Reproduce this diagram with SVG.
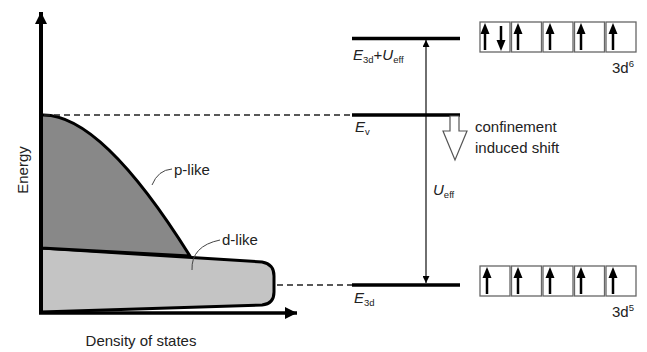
<svg xmlns="http://www.w3.org/2000/svg" width="647" height="352" viewBox="0 0 647 352">
<style>
text{font-family:"Liberation Sans",Arial,sans-serif;fill:#222}
.lbl{font-size:15px}
.it{font-style:italic}
.sub{font-size:9.5px}
.lvl{stroke:#000;stroke-width:3.5;fill:none}
.dash{stroke:#222;stroke-width:1.5;stroke-dasharray:6,4;fill:none}
.box{fill:#fff;stroke:#666;stroke-width:1.3}
.spin{stroke:#000;stroke-width:2.5;fill:none}
.lead{stroke:#444;stroke-width:1;fill:none}
</style>
<defs>
<marker id="ah" viewBox="0 0 10 10" refX="10" refY="5" markerWidth="7" markerHeight="7" markerUnits="userSpaceOnUse" orient="auto"><path d="M0,0 L10,5 L0,10 z" fill="#000"/></marker>
<marker id="ahax" viewBox="0 0 10 10" refX="10" refY="5" markerWidth="12" markerHeight="12" markerUnits="userSpaceOnUse" orient="auto"><path d="M0,0 L10,5 L0,10 z" fill="#000"/></marker>
<path id="up" d="M-4.5,0 L0,-11 L4.5,0 z" fill="#000"/>
</defs>

<g id="dos">
<path d="M41,248 L262,262 Q274,264 274,276 L274,292 Q274,304 262,305 L41,312 Z" fill="#c4c4c4" stroke="#000" stroke-width="3" stroke-linejoin="round"/>
<path d="M41,115 Q100,112 190,256 L41,248 Z" fill="#888" stroke="#000" stroke-width="3" stroke-linejoin="round"/>
<path d="M41,115 L41,248" stroke="#000" stroke-width="4"/>
</g>

<g id="axes">
<line x1="41" y1="313" x2="41" y2="12" stroke="#000" stroke-width="4" marker-end="url(#ahax)"/>
<line x1="39" y1="313" x2="297" y2="313" stroke="#000" stroke-width="3.5" marker-end="url(#ahax)"/>
<text class="lbl" transform="translate(28,170) rotate(-90)" text-anchor="middle">Energy</text>
<text class="lbl" x="141" y="346" text-anchor="middle">Density of states</text>
</g>

<g id="labels-dos">
<path class="lead" d="M152,185 Q158,170 172,169"/>
<text class="lbl" x="174" y="175">p-like</text>
<path class="lead" d="M192,270 Q191,246 220,240"/>
<text class="lbl" x="222" y="245">d-like</text>
</g>

<g id="connectors">
<line class="dash" x1="44" y1="115" x2="352" y2="115"/>
<line class="dash" x1="277" y1="285" x2="352" y2="285"/>
<line x1="426" y1="100" x2="426" y2="40" stroke="#222" stroke-width="1.3" marker-end="url(#ah)"/>
<line x1="426" y1="100" x2="426" y2="283" stroke="#222" stroke-width="1.3" marker-end="url(#ah)"/>
</g>

<g id="level-top">
<line class="lvl" x1="352" y1="38.5" x2="460" y2="38.5"/>
<text class="lbl" x="353" y="60"><tspan class="it">E</tspan><tspan class="sub" dy="3">3d</tspan><tspan dy="-3">+</tspan><tspan class="it">U</tspan><tspan class="sub" dy="3">eff</tspan></text>
</g>

<g id="level-ev">
<line class="lvl" x1="352" y1="115" x2="460" y2="115"/>
<text class="lbl" x="355" y="132"><tspan class="it">E</tspan><tspan class="sub" dy="3">v</tspan></text>
</g>

<g id="level-e3d">
<line class="lvl" x1="352" y1="285" x2="460" y2="285"/>
<text class="lbl" x="354" y="303"><tspan class="it">E</tspan><tspan class="sub" dy="3">3d</tspan></text>
</g>

<g id="ueff">
<text class="lbl" x="433" y="195"><tspan class="it">U</tspan><tspan class="sub" dy="3">eff</tspan></text>
</g>

<g id="shift">
<path d="M450,116 L459,116 L459,131 L467,131 L455,160 L443,131 L450,131 Z" fill="#fff" stroke="#555" stroke-width="1.2" stroke-linejoin="miter"/>
<text class="lbl" x="475" y="132">confinement</text>
<text class="lbl" x="475" y="153">induced shift</text>
</g>

<g id="d6">
<rect class="box" x="480" y="22" width="30" height="30"/>
<rect class="box" x="511.5" y="22" width="30" height="30"/>
<rect class="box" x="543" y="22" width="30" height="30"/>
<rect class="box" x="574.5" y="22" width="30" height="30"/>
<rect class="box" x="606" y="22" width="30" height="30"/>
<line class="spin" x1="485" y1="50" x2="485" y2="32"/><use href="#up" x="485" y="34"/>
<line class="spin" x1="501" y1="26" x2="501" y2="42"/><use href="#up" transform="translate(501,40) rotate(180)"/>
<line class="spin" x1="518" y1="50" x2="518" y2="32"/><use href="#up" x="518" y="34"/>
<line class="spin" x1="550" y1="50" x2="550" y2="32"/><use href="#up" x="550" y="34"/>
<line class="spin" x1="581" y1="50" x2="581" y2="32"/><use href="#up" x="581" y="34"/>
<line class="spin" x1="613" y1="50" x2="613" y2="32"/><use href="#up" x="613" y="34"/>
<text class="lbl" x="612" y="73">3d<tspan class="sub" dy="-6">6</tspan></text>
</g>

<g id="d5">
<rect class="box" x="480" y="266" width="30" height="30"/>
<rect class="box" x="511.5" y="266" width="30" height="30"/>
<rect class="box" x="543" y="266" width="30" height="30"/>
<rect class="box" x="574.5" y="266" width="30" height="30"/>
<rect class="box" x="606" y="266" width="30" height="30"/>
<line class="spin" x1="487" y1="294" x2="487" y2="276"/><use href="#up" x="487" y="278"/>
<line class="spin" x1="518" y1="294" x2="518" y2="276"/><use href="#up" x="518" y="278"/>
<line class="spin" x1="550" y1="294" x2="550" y2="276"/><use href="#up" x="550" y="278"/>
<line class="spin" x1="581" y1="294" x2="581" y2="276"/><use href="#up" x="581" y="278"/>
<line class="spin" x1="613" y1="294" x2="613" y2="276"/><use href="#up" x="613" y="278"/>
<text class="lbl" x="612" y="317">3d<tspan class="sub" dy="-6">5</tspan></text>
</g>
</svg>
